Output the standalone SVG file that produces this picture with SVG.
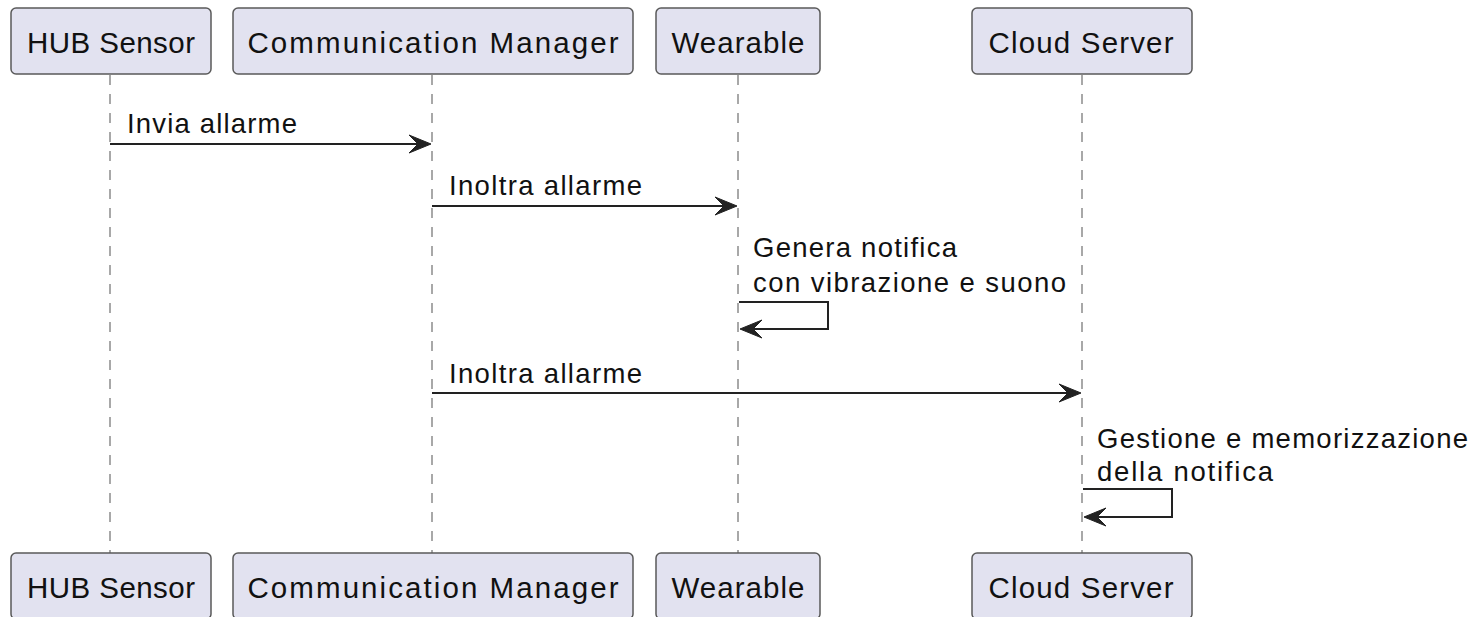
<svg xmlns="http://www.w3.org/2000/svg" width="1471" height="617" viewBox="0 0 1471 617">
<style>
.box{fill:#E2E2F0;stroke:#5a5a5a;stroke-width:1.5}
.pt{font-family:"Liberation Sans",Arial,sans-serif;font-size:29.5px;fill:#111;text-anchor:middle}
.mt{font-family:"Liberation Sans",Arial,sans-serif;font-size:27.5px;fill:#111}
.life{stroke:#a8a8a8;stroke-width:2;stroke-dasharray:10,9;fill:none}
.msg{stroke:#222;stroke-width:2;fill:none}
.ah{fill:#222;stroke:#222;stroke-width:1}
</style>
<rect width="1471" height="617" fill="#fff"/>
<g id="lifelines">
<line class="life" x1="110" y1="75" x2="110" y2="553"/>
<line class="life" x1="432" y1="75" x2="432" y2="553"/>
<line class="life" x1="738" y1="75" x2="738" y2="553"/>
<line class="life" x1="1082" y1="75" x2="1082" y2="553"/>
</g>
<g id="hub-top"><rect class="box" x="11" y="8" width="200" height="66" rx="5"/><text class="pt" x="111" y="53" textLength="168" lengthAdjust="spacing">HUB Sensor</text></g>
<g id="comm-top"><rect class="box" x="233" y="8" width="400" height="66" rx="5"/><text class="pt" x="433" y="53" textLength="371" lengthAdjust="spacing">Communication Manager</text></g>
<g id="wear-top"><rect class="box" x="656" y="8" width="164" height="66" rx="5"/><text class="pt" x="738" y="53" textLength="133" lengthAdjust="spacing">Wearable</text></g>
<g id="cloud-top"><rect class="box" x="972" y="8" width="220" height="66" rx="5"/><text class="pt" x="1081" y="53" textLength="185" lengthAdjust="spacing">Cloud Server</text></g>
<g id="hub-bottom"><rect class="box" x="11" y="553" width="200" height="66" rx="5"/><text class="pt" x="111" y="598" textLength="168" lengthAdjust="spacing">HUB Sensor</text></g>
<g id="comm-bottom"><rect class="box" x="233" y="553" width="400" height="66" rx="5"/><text class="pt" x="433" y="598" textLength="371" lengthAdjust="spacing">Communication Manager</text></g>
<g id="wear-bottom"><rect class="box" x="656" y="553" width="164" height="66" rx="5"/><text class="pt" x="738" y="598" textLength="133" lengthAdjust="spacing">Wearable</text></g>
<g id="cloud-bottom"><rect class="box" x="972" y="553" width="220" height="66" rx="5"/><text class="pt" x="1081" y="598" textLength="185" lengthAdjust="spacing">Cloud Server</text></g>
<g id="connectors">
<line class="msg" x1="110" y1="144" x2="428" y2="144"/>
<polygon class="ah" points="431,144 409,135 418,144 409,153"/>
<text class="mt" x="127" y="133" textLength="170" lengthAdjust="spacing">Invia allarme</text>
<line class="msg" x1="432" y1="206" x2="734" y2="206"/>
<polygon class="ah" points="737,206 715,197 724,206 715,215"/>
<text class="mt" x="449" y="195" textLength="193" lengthAdjust="spacing">Inoltra allarme</text>
<polyline class="msg" points="739,302 828,302 828,329 743,329"/>
<polygon class="ah" points="740,329 762,320 753,329 762,338"/>
<text class="mt" x="753" y="257" textLength="204" lengthAdjust="spacing">Genera notifica</text>
<text class="mt" x="753" y="292" textLength="313" lengthAdjust="spacing">con vibrazione e suono</text>
<line class="msg" x1="432" y1="393" x2="1078" y2="393"/>
<polygon class="ah" points="1081,393 1059,384 1068,393 1059,402"/>
<text class="mt" x="449" y="383" textLength="193" lengthAdjust="spacing">Inoltra allarme</text>
<polyline class="msg" points="1083,489 1172,489 1172,517 1087,517"/>
<polygon class="ah" points="1084,517 1106,508 1097,517 1106,526"/>
<text class="mt" x="1097" y="448" textLength="371" lengthAdjust="spacing">Gestione e memorizzazione</text>
<text class="mt" x="1097" y="481" textLength="176" lengthAdjust="spacing">della notifica</text>
</g>
</svg>
